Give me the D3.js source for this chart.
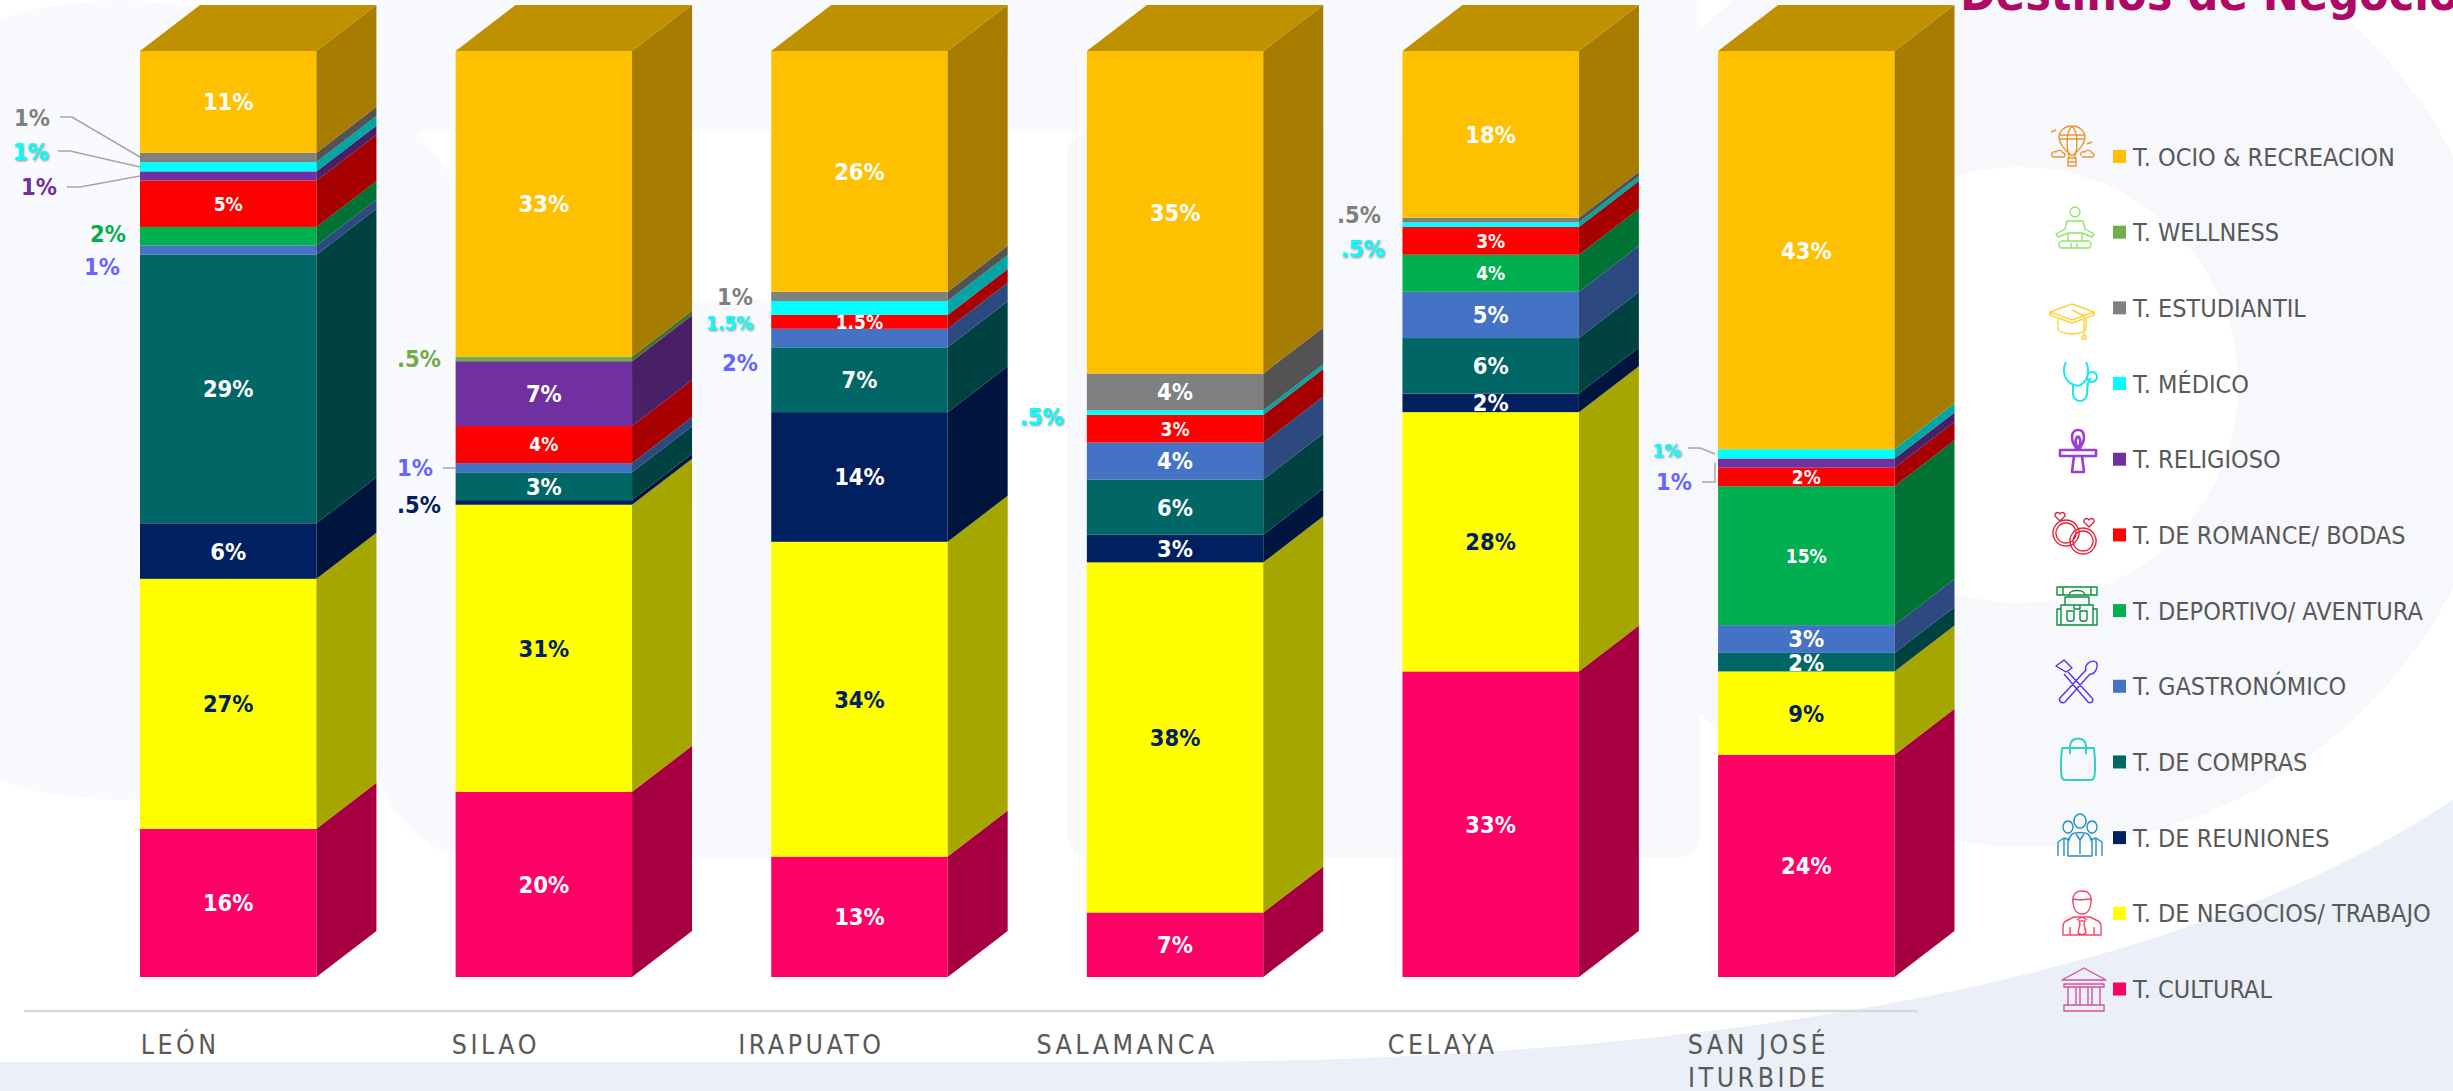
<!DOCTYPE html>
<html lang="es"><head><meta charset="utf-8">
<script src="https://cdn.jsdelivr.net/npm/d3@7/dist/d3.min.js"></script>
<style>
html,body{margin:0;padding:0;background:#fff;overflow:hidden}
svg{display:block}
text{font-family:"DejaVu Sans Condensed","DejaVu Sans",sans-serif;font-stretch:condensed}
</style></head><body><svg id="c" width="2453" height="1091"></svg>
<script>
// ---- data (bottom to top of each stack) ----
const cities = ["LEÓN","SILAO","IRAPUATO","SALAMANCA","CELAYA","SAN JOSÉ ITURBIDE"];
const seriesNames = ["T. CULTURAL","T. DE NEGOCIOS/ TRABAJO","T. DE REUNIONES","T. DE COMPRAS","T. GASTRONÓMICO","T. DEPORTIVO/ AVENTURA","T. DE ROMANCE/ BODAS","T. RELIGIOSO","T. MÉDICO","T. ESTUDIANTIL","T. WELLNESS","T. OCIO & RECREACION"];
const seriesColors = ["#ff0066","#ffff00","#002060","#006666","#4472c4","#00b050","#ff0000","#7030a0","#00ffff","#808080","#70ad47","#ffc000"];
const cultural   = [16,20,13,7,33,24];
const negocios   = [27,31,34,38,28,9];
const reuniones  = [6,0.5,14,3,2,0];
const compras    = [29,3,7,6,6,2];
const gastro     = [1,1,2,4,5,3];
const deportivo  = [2,0,0,0,4,15];
const romance    = [5,4,1.5,3,3,2];
const religioso  = [1,7,0,0,0,1];
const medico     = [1,0,1.5,0.5,0.5,1];
const estudiantil= [1,0,1,4,0.5,0];
const wellness   = [0,0.5,0,0,0,0];
const ocio       = [11,33,26,35,18,43];
const seriesValues = [cultural,negocios,reuniones,compras,gastro,deportivo,romance,religioso,medico,estudiantil,wellness,ocio];
const legendOrder = [11,10,9,8,7,6,5,4,3,2,1,0];
// values printed smaller inside the bar: [city, series]
const smallLabels = [[0,6],[1,6],[2,6],[3,6],[4,6],[4,5],[5,6],[5,5]];
// values printed outside the bar: [city, series, x, y, colour, size, shadow]
const outerLabels = [
 [0,9,32,118,"#7f7f7f",23.5],[0,8,31,152,"#00ffff",23.5,1],[0,7,39,187,"#7030a0",23.5],[0,5,108,234,"#00b050",23.5],[0,4,102,267,"#6666ff",23.5],
 [1,10,419,359,"#70ad47",23.5],[1,4,415,468,"#6666ff",23.5],[1,2,419,505,"#002060",23.5],
 [2,9,735,297,"#7f7f7f",23.5],[2,8,730,323,"#00ffff",19,1],[2,4,740,363,"#6666ff",23.5],
 [3,8,1042,417,"#00ffff",23.5,1],
 [4,9,1359,215,"#7f7f7f",23.5],[4,8,1363,249,"#00ffff",23.5,1],
 [5,8,1667,450,"#00ffff",18.5,1],[5,7,1674,482,"#6666ff",23.5]
];
const leaders = [
 [[60,117],[72,117],[140,157]],[[58,151],[70,151],[140,167]],[[67,187],[80,187],[140,176]],
 [[443,468],[456,468]],
 [[1688,448],[1700,448],[1715,454]],[[1702,482],[1715,482],[1715,463]]
];

const svg = d3.select("#c");

// ---- background ----
const bg = svg.append("g");
bg.append("circle").attr("cx",120).attr("cy",400).attr("r",400).attr("fill","#f9fafd");
bg.append("rect").attr("x",376).attr("y",0).attr("width",1324).attr("height",132).attr("fill","#f9fafd");
bg.append("rect").attr("x",376).attr("y",300).attr("width",632).attr("height",560).attr("rx",110).attr("fill","#f9fafd");
bg.append("rect").attr("x",1067).attr("y",132).attr("width",633).attr("height",726).attr("rx",24).attr("fill","#f8f9fc");
bg.append("circle").attr("cx",2030).attr("cy",372).attr("r",475).attr("fill","#f6f8fc");
bg.append("circle").attr("cx",2020).attr("cy",385).attr("r",218).attr("fill","#ffffff");
bg.append("path").attr("d","M0,1062 L1150,1062 C1650,1062 2150,1000 2453,800 L2453,1091 L0,1091 Z").attr("fill","#ebeff7");

// ---- scales ----
const x = d3.scaleBand().domain(d3.range(cities.length)).range([140,1894.5]).paddingInner(0.441).paddingOuter(0);
const y = d3.scaleLinear().domain([0,1]).range([977,51]);
const depthX = 60, depthY = 46;
const shade = (c,k)=>{const r=d3.rgb(c);return d3.rgb(r.r*k,r.g*k,r.b*k).formatHex();};

const table = cities.map((c,i)=>{const o={};seriesValues.forEach((v,s)=>o[s]=v[i]);return o;});
const stacked = d3.stack().keys(d3.range(seriesNames.length)).offset(d3.stackOffsetExpand)(table);

const fmt = v => (v<1 ? String(v).replace(/^0/,"") : String(v))+"%";

// ---- baseline ----
svg.append("line").attr("x1",24).attr("x2",1918).attr("y1",1011).attr("y2",1011).attr("stroke","#d9d9d9").attr("stroke-width",2.5);

// ---- bars ----
const bars = svg.append("g");
cities.forEach((c,i)=>{
  const x0=x(i), x1=x0+x.bandwidth();
  stacked.forEach((layer,s)=>{
    const d=layer[i]; if(d[1]-d[0]<=0) return;
    const yb=y(d[0]), yt=y(d[1]), col=seriesColors[s];
    bars.append("rect").attr("x",x0).attr("y",yt).attr("width",x.bandwidth()).attr("height",yb-yt).attr("fill",col);
    bars.append("polygon").attr("points",[[x1,yb],[x1,yt],[x1+depthX,yt-depthY],[x1+depthX,yb-depthY]].join(" ")).attr("fill",shade(col,0.65));
  });
  const yt=y(1);
  bars.append("polygon").attr("points",[[x0,yt],[x1,yt],[x1+depthX,yt-depthY],[x0+depthX,yt-depthY]].join(" ")).attr("fill",shade(seriesColors[11],0.75));
});

// ---- value labels ----
const isOuter=(i,s)=>outerLabels.some(l=>l[0]===i&&l[1]===s);
const isSmall=(i,s)=>smallLabels.some(l=>l[0]===i&&l[1]===s);
const labels=svg.append("g").attr("text-anchor","middle");
cities.forEach((c,i)=>{
  stacked.forEach((layer,s)=>{
    const v=seriesValues[s][i]; if(!v||isOuter(i,s)) return;
    const d=layer[i], small=isSmall(i,s);
    labels.append("text").attr("x",x(i)+x.bandwidth()/2).attr("y",(y(d[0])+y(d[1]))/2)
      .attr("dy","0.36em").attr("font-size",small?19:23.5).attr("font-weight","bold")
      .attr("fill",s===1?"#002060":"#ffffff").text(fmt(v));
  });
});
outerLabels.forEach(l=>{
  const t=labels.append("text").attr("x",l[2]).attr("y",l[3]).attr("dy","0.36em").attr("font-size",l[5]).attr("font-weight","bold")
    .attr("fill",l[4]).text(fmt(seriesValues[l[1]][l[0]]));
  if(l[6]) t.style("filter","drop-shadow(1px 1px 1px #888)");
});
const ln=d3.line();
svg.append("g").selectAll("path").data(leaders).join("path").attr("d",ln).attr("fill","none").attr("stroke","#a6a6a6").attr("stroke-width",1.5);

// ---- axis ----
const ax=svg.append("g").attr("transform","translate(-48,1028)")
  .call(d3.axisBottom(x).tickSize(0).tickPadding(0).tickFormat(()=>""));
ax.select(".domain").remove();
ax.selectAll(".tick").each(function(i){
  const g=d3.select(this);
  g.select("text").remove();
  const parts=cities[i]==="SAN JOSÉ ITURBIDE"?["SAN JOSÉ","ITURBIDE"]:[cities[i]];
  parts.forEach((p,k)=>g.append("text").attr("y",16+k*33).attr("dy","0.36em").attr("text-anchor","middle")
    .attr("font-size",26.5).attr("letter-spacing",3.5).attr("fill","#595959").text(p));
});

// ---- title ----
svg.append("text").attr("x",1960).attr("y",10).attr("font-size",48).attr("font-weight","bold").attr("fill","#ad0a66").text("Destinos de Negocio");

// ---- legend ----
const legY=d3.scalePoint().domain(d3.range(12)).range([156.5,989]);
const leg=svg.append("g");
legendOrder.forEach((s,k)=>{
  leg.append("rect").attr("x",2113).attr("y",legY(k)-6.5).attr("width",13).attr("height",13).attr("fill",seriesColors[s]);
  leg.append("text").attr("x",2133).attr("y",legY(k)).attr("dy","0.36em").attr("font-size",25).attr("fill","#595959").text(seriesNames[s]);
});

// ---- legend icons (decorative line art, in a local 44-unit box) ----
const iconCentres=[[2072,148],[2075,229],[2072,318],[2080,382],[2078,450],[2074,530],[2077,607],[2076,682],[2078,760],[2080,836],[2082,913],[2084,990]];
const icons=[
 {c:"#e8952f",d:"M22 30C12 22 9 16 9 11a13 11 0 0 1 26 0c0 5-3 11-13 19M22 0C16 6 16 20 19 30M22 0c6 6 6 20 3 30M9 9h26M9 13h26M18 32h8v8h-8zM18 36h8M19 30v2M25 30v2M2 30a3 3 0 0 1 4-4a4 4 0 0 1 7 1a2 2 0 0 1 0 4H3a2 2 0 0 1-1-1M31 30a3 3 0 0 1 4-4a4 4 0 0 1 7 1a2 2 0 0 1 0 4H32M1 6l5-2M42 16l-5 2"},
 {c:"#8fe36b",d:"M22 0a5 5 0 1 1-.01 0M14 14h16l2 8 9 5-2 3-10-4H15L5 30l-2-3 9-5zM15 26v8M29 26v8M8 34h28a4 4 0 0 1 0 7H8a4 4 0 0 1 0-7M18 36v5M24 36v5"},
 {c:"#ffd23f",d:"M0 16L22 8l22 8-22 8zM0 16v3l22 8 22-8v-3M8 23v11c6 5 22 5 28 0V23M34 20v20M32 40h4v3h-4zM22 14l12 6"},
 {c:"#22e6ee",w:2,d:"M8 2C4 10 6 20 14 24c4 2 8 2 10 0 6-4 8-14 4-22M15 24v10a7 7 0 0 0 14 0c0-6 0-12 4-16M34 12a5 5 0 1 0 .01 0"},
 {c:"#9a3fd0",w:2.6,d:"M22 22C14 14 14 2 22 2s8 12 0 20M22 8C18 12 20 18 22 20c2-2 4-8 0-12M4 22h36v6H4zM18 28h8l2 16H16z"},
 {c:"#e3243b",d:"M14 12a13 13 0 1 0 .01 0M14 15a10 10 0 1 0 .01 0M31 20a13 13 0 1 0 .01 0M31 23a10 10 0 1 0 .01 0M8 6c-3-4-7 1-4 3l4 4 4-4c3-2-1-7-4-3M37 12c-3-4-7 1-4 3l4 4 4-4c3-2-1-7-4-3"},
 {c:"#0c8f3a",d:"M2 2h40v8H2zM8 2v8M36 2v8M14 10c0-6 16-6 16 0M10 12h24v8H10zM6 20h32v20H6zM2 24h4v16H2zM38 24h4v16h-4zM12 26h7v8c0 3-7 3-7 0zM25 26h7v8c0 3-7 3-7 0zM19 20h6v4h-6z"},
 {c:"#5a2df0",d:"M2 6l8-6 8 8-6 4zM14 12L38 38c3 3-2 6-4 4L10 14M42 2c-5-3-12 3-10 8L6 38c-2 3 2 6 5 4L36 14c5 1 9-8 6-12z"},
 {c:"#35cfc4",w:2,d:"M6 10h32c1 10 2 22 0 30-1 2-2 2-4 2H10c-2 0-3 0-4-2-2-8-1-20 0-30zM14 16V8c0-10 16-10 16 0v8"},
 {c:"#2a8fc0",d:"M22 0a6 7 0 1 1-.01 0M10 7a5 6 0 1 1-.01 0M34 7a5 6 0 1 1-.01 0M14 20c4-2 12-2 16 0l4 6v16H10V26zM0 42V28l6-4 6 2M44 42V28l-6-4-6 2M18 20l4 6 4-6M22 26v14M6 24v18M38 24v18"},
 {c:"#f0486e",d:"M22 0c-8 0-10 6-9 12 1 8 5 11 9 11s8-3 9-11c1-6-1-12-9-12zM13 8c6 2 12 0 18 0M14 26L6 30c-2 1-3 3-3 6v8h38v-8c0-3-1-5-3-6l-8-4zM22 26l-5 3M22 26l5 3M19 30h6l-1 3 2 9-4 2-4-2 2-9zM10 36v8M34 36v8"},
 {c:"#d9509a",d:"M0 12L22 0l22 12zM2 16h40v3H2zM6 19h8v18H6zM18 19h8v18h-8zM30 19h8v18h-8zM2 37h40v6H2z"}
];
const ig=svg.append("g").attr("fill","none");
icons.forEach((ic,k)=>{
  ig.append("path").attr("transform",`translate(${iconCentres[k][0]-22},${iconCentres[k][1]-22})`)
    .attr("d",ic.d).attr("stroke",ic.c).attr("stroke-width",ic.w||1.4).attr("stroke-linejoin","round");
});
</script></body></html>
